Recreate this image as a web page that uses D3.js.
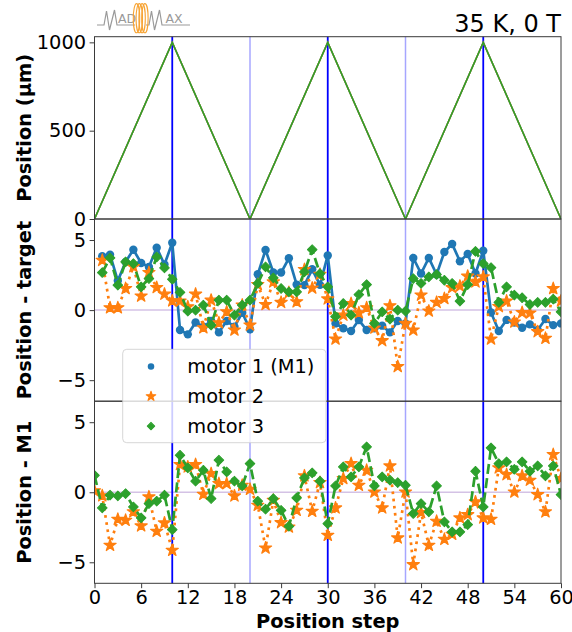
<!DOCTYPE html>
<html>
<head>
<meta charset="utf-8">
<script src="https://cdn.jsdelivr.net/npm/d3@7"></script>
<style>
  body { margin: 0; background: #fff; }
  svg { display: block; }
  text { font-family: "DejaVu Sans", sans-serif; }
</style>
</head>
<body>
<svg id="chart" width="572" height="632"></svg>
<script>
// ---- data ----------------------------------------------------------------
const steps = [0,1,2,3,4,5,6,7,8,9,10,11,12,13,14,15,16,17,18,19,20,
  21,22,23,24,25,26,27,28,29,30,31,32,33,34,35,36,37,38,39,40,
  41,42,43,44,45,46,47,48,49,50,51,52,53,54,55,56,57,58,59,60];

// commanded position, corner points of the back-and-forth sweep
const sweepSteps = [0, 10, 20, 30, 40, 50, 60];
const sweepPos   = [0, 1000, 0, 1000, 0, 1000, 0];

// position - target (no reading at step 0)
const m1Err = [null,
  3.85, 3.96, 2.09, 3.44, 4.31, 3.36, 3.08, 4.45, 3.25, 4.81,
  -1.42, -1.73, -0.88, -1.18, -0.78, -1.59, -0.78, -1.18, -0.19, -1.37,
  2.56, 4.29, 2.68, 2.68, 3.70, 1.82, 1.78, 2.91, 1.80, 3.90,
  -0.95, -1.30, -1.49, -0.71, -1.42, -1.30, -1.11, -1.59, -0.78, -0.95,
  3.72, 2.61, 3.72, 2.54, 4.15, 4.72, 3.48, 4.00, 2.61, 4.24,
  -0.17, -1.49, -0.70, -0.88, -1.26, -1.02, -1.42, -0.64, -1.07, -0.95];
const m2Err = [null,
  3.55, 0.17, 0.17, 1.54, 3.10, 1.00, 2.68, 1.61, 1.14, 0.66,
  0.64, 0.24, 1.14, -1.26, 0.71, -0.90, -0.12, -1.42, 0.36, -1.07,
  1.82, 0.40, 2.01, 0.55, 1.25, 0.59, 2.89, 1.57, 2.56, 0.80,
  -2.06, -0.36, 0.47, -0.19, 0.17, -1.28, -2.18, 0.31, -4.03, -0.95,
  -1.42, 1.07, -0.07, 0.55, 0.83, 1.60, 1.71, 2.42, 2.01, 2.37,
  -2.06, 0.25, 0.65, -0.85, -0.17, -0.21, -1.54, -2.01, 1.54, 0.65];
const m3Err = [null,
  2.68, 3.72, 1.78, 3.44, 3.32, 1.66, 2.25, 3.79, 3.01, 2.20,
  1.26, -0.07, 0.00, 0.36, -1.07, 0.71, 0.71, -0.36, 0.36, 0.71,
  1.90, 3.08, 2.30, 1.54, 1.30, 1.30, 2.73, 4.31, 2.60, 1.66,
  -0.47, 0.47, -0.36, 1.11, 1.82, -0.95, -0.12, -0.64, 0.00, -0.07,
  2.25, 1.90, 2.37, 2.54, 2.13, 1.90, 0.64, 1.82, 4.19, 3.32,
  3.03, 0.55, 1.66, 1.07, 0.88, 0.40, 0.55, 0.55, 0.78, -0.12];

// position relative to motor 1
const m2Rel = [0.10,
  -0.25, -3.79, -1.93, -2.00, -1.40, -2.40, -0.33, -2.79, -2.19, -4.14,
  1.98, 1.81, 1.98, -0.14, 1.33, 0.62, 0.62, -0.26, 0.50, 0.21,
  -0.93, -3.98, -0.57, -2.17, -2.48, -1.29, 1.17, -1.36, 0.69, -3.07,
  -1.12, 0.98, 2.05, 0.50, 1.57, 0.02, -1.12, 1.88, -3.26, 0.02,
  -5.17, -1.45, -3.79, -2.07, -3.36, -3.00, -1.83, -1.60, -0.69, -1.83,
  -1.93, 1.74, 1.26, 0.02, 1.17, 0.86, -0.17, -1.40, 2.69, 0.98];
const m3Rel = [1.21,
  -1.12, -0.21, -0.26, -0.10, -1.05, -1.83, -0.81, -0.64, -0.21, -2.67,
  2.64, 1.74, 0.79, 1.57, -0.45, 2.29, 1.45, 0.79, 0.45, 2.05,
  -0.64, -1.21, -0.45, -1.29, -2.43, -0.40, 1.02, 1.38, 0.79, -2.24,
  0.45, 1.81, 1.10, 1.81, 3.24, 0.45, 1.10, 0.86, 0.69, 0.50,
  -1.52, -0.81, -1.40, 0.45, -2.12, -2.83, -2.83, -2.31, 1.50, -1.05,
  3.17, 2.05, 2.17, 1.64, 2.17, 1.50, 1.88, 1.17, 1.88, -0.17];

const turnSteps  = [10, 30, 50];   // top of each sweep
const returnSteps = [20, 40];      // back at zero
const xTicks = [0, 6, 12, 18, 24, 30, 36, 42, 48, 54, 60];
const topTicks = [0, 500, 1000];
const errTicks = [-5, 0, 5];
const seriesNames = ["motor 1 (M1)", "motor 2", "motor 3"];
const colors = ["#1f77b4", "#ff7f0e", "#2ca02c"];

// ---- layout ----------------------------------------------------------------
const svg = d3.select("#chart");
const L = 94.5, R = 561;
const panels = [
  { top: 36.7,  bottom: 219 },
  { top: 219,   bottom: 401.2 },
  { top: 401.2, bottom: 583.3 }
];
const fs = 19.4;
const fmt = d3.format("d");

const x = d3.scaleLinear().domain([0, 60]).range([L, R]);
const yTop = d3.scaleLinear().domain([0, 1032]).range([panels[0].bottom, panels[0].top]);
const yMid = d3.scaleLinear().domain([-6.5, 6.5]).range([panels[1].bottom, panels[1].top]);
const yBot = d3.scaleLinear().domain([-6.5, 6.5]).range([panels[2].bottom, panels[2].top]);

const defs = svg.append("defs");
panels.forEach((p, i) => {
  defs.append("clipPath").attr("id", "clip" + i)
    .append("rect").attr("x", L).attr("y", p.top)
    .attr("width", R - L).attr("height", p.bottom - p.top);
});

// zero reference lines
[yMid, yBot].forEach(y => {
  svg.append("line")
    .attr("x1", L).attr("x2", R).attr("y1", y(0)).attr("y2", y(0))
    .attr("stroke", "rgba(148,103,189,0.4)").attr("stroke-width", 1.5);
});

// sweep markers across all panels
svg.append("g").selectAll("line").data(returnSteps).join("line")
  .attr("x1", d => x(d)).attr("x2", d => x(d))
  .attr("y1", panels[0].top).attr("y2", panels[2].bottom)
  .attr("stroke", "rgba(0,0,255,0.35)").attr("stroke-width", 1.5);
svg.append("g").selectAll("line").data(turnSteps).join("line")
  .attr("x1", d => x(d)).attr("x2", d => x(d))
  .attr("y1", panels[0].top).attr("y2", panels[2].bottom)
  .attr("stroke", "#0000ff").attr("stroke-width", 1.8);

// ---- top panel: commanded position ------------------------------------------
const sweepLine = d3.line().x((d, i) => x(sweepSteps[i])).y(d => yTop(d));
const gTop = svg.append("g").attr("clip-path", "url(#clip0)");
colors.forEach(c => {
  gTop.append("path").datum(sweepPos)
    .attr("d", sweepLine).attr("fill", "none")
    .attr("stroke", c).attr("stroke-width", 1.5);
});

// ---- markers ----------------------------------------------------------------
function markerPath(kind, scale) {
  if (kind === 1) return d3.symbol().type(d3.symbolStar).size(46 * scale)();
  return d3.symbol().type(d3.symbolSquare).size(46 * scale)();
}

function drawMarker(g, kind, cx, cy, color, scale = 1) {
  if (kind === 0) {
    g.append("circle").attr("cx", cx).attr("cy", cy).attr("r", 4.2 * Math.sqrt(scale)).attr("fill", color);
  } else if (kind === 1) {
    g.append("path").attr("d", markerPath(1, scale))
      .attr("transform", `translate(${cx},${cy})`).attr("fill", color)
      .attr("stroke", color).attr("stroke-width", 1.2).attr("stroke-linejoin", "round");
  } else {
    g.append("path").attr("d", markerPath(2, scale))
      .attr("transform", `translate(${cx},${cy}) rotate(45)`).attr("fill", color)
      .attr("stroke", color).attr("stroke-width", 1).attr("stroke-linejoin", "round");
  }
}

const dashes = [null, "2.7,4.5", "10,4.3"];

function drawSeries(g, y, values, kind) {
  const line = d3.line()
    .defined(d => d != null)
    .x((d, i) => x(steps[i]))
    .y(d => y(d));
  g.append("path").datum(values)
    .attr("d", line).attr("fill", "none")
    .attr("stroke", colors[kind]).attr("stroke-width", 2.7)
    .attr("stroke-dasharray", dashes[kind]);
  const gm = g.append("g");
  values.forEach((v, i) => {
    if (v != null) drawMarker(gm, kind, x(steps[i]), y(v), colors[kind]);
  });
}

const gMid = svg.append("g").attr("clip-path", "url(#clip1)");
drawSeries(gMid, yMid, m1Err, 0);
drawSeries(gMid, yMid, m2Err, 1);
drawSeries(gMid, yMid, m3Err, 2);

const gBot = svg.append("g").attr("clip-path", "url(#clip2)");
drawSeries(gBot, yBot, m2Rel, 1);
drawSeries(gBot, yBot, m3Rel, 2);

// ---- frames and axes ------------------------------------------------------
panels.forEach(p => {
  svg.append("rect").attr("x", L).attr("y", p.top)
    .attr("width", R - L).attr("height", p.bottom - p.top)
    .attr("fill", "none").attr("stroke", "#3a3a3a").attr("stroke-width", 1);
});

function styleAxis(g) {
  g.select(".domain").remove();
  g.selectAll(".tick line").attr("stroke", "#3a3a3a");
  g.selectAll(".tick text").attr("font-size", fs).attr("fill", "#000")
    .attr("font-family", "DejaVu Sans, sans-serif");
}

svg.append("g").attr("transform", `translate(${L},0)`)
  .call(d3.axisLeft(yTop).tickValues(topTicks).tickFormat(fmt).tickSize(4.9).tickPadding(3.5))
  .call(styleAxis);
svg.append("g").attr("transform", `translate(${L},0)`)
  .call(d3.axisLeft(yMid).tickValues(errTicks).tickFormat(fmt).tickSize(4.9).tickPadding(3.5))
  .call(styleAxis);
svg.append("g").attr("transform", `translate(${L},0)`)
  .call(d3.axisLeft(yBot).tickValues(errTicks).tickFormat(fmt).tickSize(4.9).tickPadding(3.5))
  .call(styleAxis);
svg.append("g").attr("transform", `translate(0,${panels[2].bottom})`)
  .call(d3.axisBottom(x).tickValues(xTicks).tickFormat(fmt).tickSize(4.9).tickPadding(2.5))
  .call(styleAxis);

// axis titles
const yTitles = ["Position (\u03bcm)", "Position - target", "Position - M1"];
panels.forEach((p, i) => {
  svg.append("text")
    .attr("transform", `translate(31,${(p.top + p.bottom) / 2}) rotate(-90)`)
    .attr("text-anchor", "middle").attr("font-size", fs).attr("font-weight", "bold")
    .text(yTitles[i]);
});
svg.append("text")
  .attr("x", (L + R) / 2).attr("y", 627.5)
  .attr("text-anchor", "middle").attr("font-size", fs).attr("font-weight", "bold")
  .text("Position step");

svg.append("text")
  .attr("x", R).attr("y", 32).attr("text-anchor", "end").attr("font-size", 24)
  .text("35 K, 0 T");

// ---- legend -----------------------------------------------------------------
const lg = svg.append("g");
lg.append("rect").attr("x", 122.7).attr("y", 349.3).attr("width", 203.3).attr("height", 93.4)
  .attr("rx", 4).attr("fill", "rgba(255,255,255,0.8)").attr("stroke", "rgba(204,204,204,0.8)");
seriesNames.forEach((name, i) => {
  const cy = 366.5 + i * 29.8;
  drawMarker(lg, i, 151, cy, colors[i], 0.6);
  lg.append("text").attr("x", 187.3).attr("y", cy).attr("dy", "0.35em")
    .attr("font-size", fs).text(name);
});

// ---- MADMAX logo ------------------------------------------------------------
const logo = svg.append("g").attr("fill", "none").attr("stroke", "#9a9a9a").attr("stroke-width", 1.2);
logo.append("path").attr("d", "M97,25 L104,25 L106.5,11 L109.5,30 L112,20 L114.5,10 L117,25 L135,25");
logo.append("path").attr("d", "M146,25 L149,25 L151.5,11 L154.5,30 L157,20 L159.5,10 L162,25 L190,25");
svg.append("text").attr("x", 118).attr("y", 23).attr("font-size", 12.5).attr("fill", "#9a9a9a").text("AD");
svg.append("text").attr("x", 165.5).attr("y", 23).attr("font-size", 12.5).attr("fill", "#9a9a9a").text("AX");
[136.5, 139.3, 142.1, 144.9].forEach(cx => {
  svg.append("ellipse").attr("cx", cx).attr("cy", 18.2).attr("rx", 3.2).attr("ry", 14.6)
    .attr("fill", "none").attr("stroke", "#f7a435").attr("stroke-width", 1.1);
});
</script>
</body>
</html>
